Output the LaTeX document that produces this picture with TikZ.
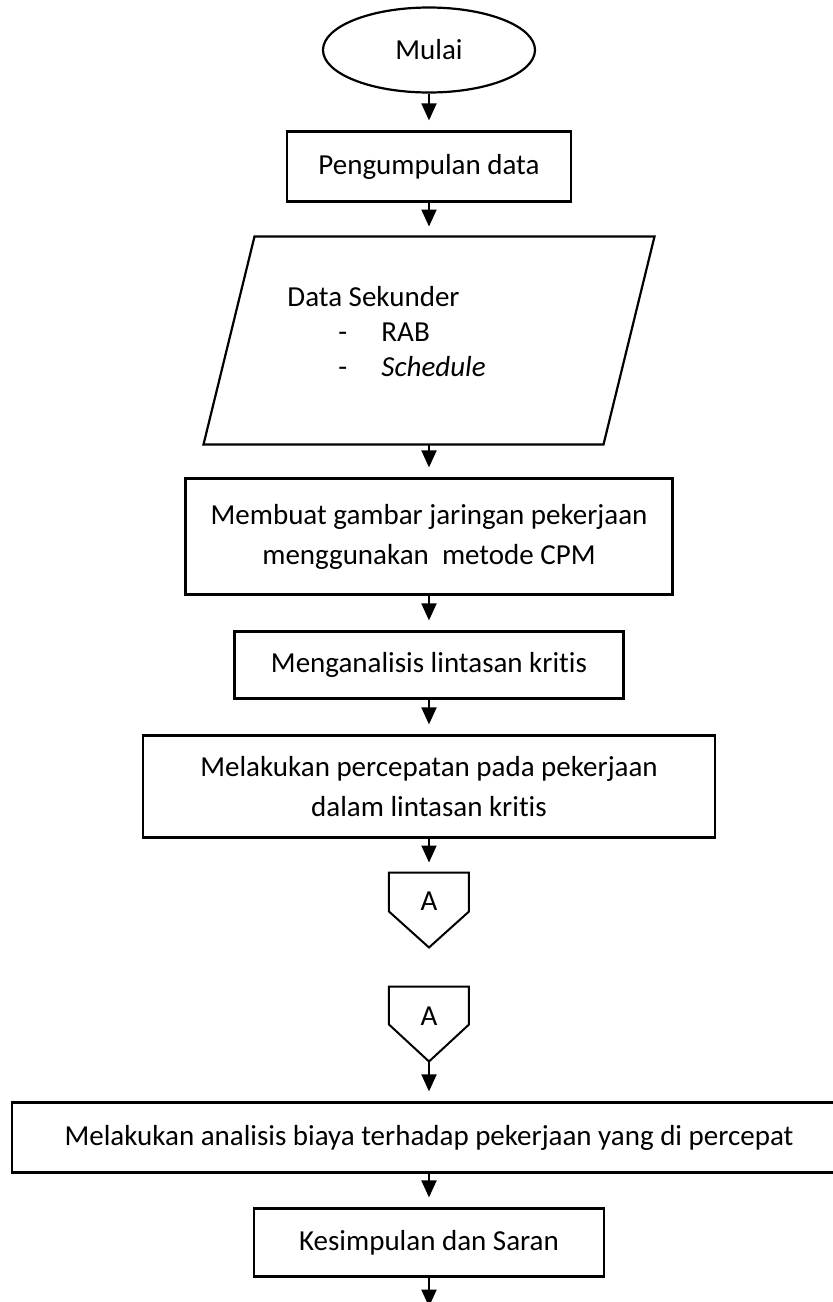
\documentclass[tikz,border=0pt]{standalone}
\usepackage{fontspec}
\setmainfont{Carlito}[Ligatures=NoCommon]
\usetikzlibrary{shapes.geometric,arrows.meta,positioning,calc}

\begin{document}
\begin{tikzpicture}[x=1pt, y=1pt, font=\fontsize{29}{40}\selectfont, box/.style={draw, line width=2.2pt, align=center, inner sep=0pt}, conn/.style={minimum width=80pt, minimum height=75pt, inner sep=0pt, outer sep=0pt}, arr/.style={-{Triangle[length=17pt, width=15pt]}, line width=2pt, shorten >=10pt}]
\useasboundingbox (-429,50) rectangle (404,-1252);
\node[box, ellipse, minimum width=212pt, minimum height=85pt] (start) {Mulai};
\node[box, below=36.8pt of start, minimum width=284pt, minimum height=70pt] (peng) {Pengumpulan data};
\node[below=33.9pt of peng, minimum width=400pt, minimum height=208pt, inner xsep=58.5pt, inner ysep=0pt, outer sep=0pt, text width=283pt, align=flush left, text depth=88pt, font=\fontsize{29}{35}\selectfont] (data) {Data Sekunder\\ \makebox[94pt][l]{\hspace*{51pt}-}RAB\\ \makebox[94pt][l]{\hspace*{51pt}-}\textit{Schedule}};
\draw[line width=2.2pt] ($(data.north west)+(25.5,0)$) -- ($(data.north east)+(25.5,0)$) -- ($(data.south east)+(-25.5,0)$) -- ($(data.south west)+(-25.5,0)$) -- cycle;
\node[box, below=32.9pt of data, minimum width=487pt, minimum height=116pt] (cpm) {Membuat gambar jaringan pekerjaan\\menggunakan\ \ metode CPM};
\node[box, below=34.8pt of cpm, minimum width=389pt, minimum height=67pt] (lint) {Menganalisis lintasan kritis};
\node[box, below=34.8pt of lint, minimum width=572pt, minimum height=102pt] (cepat) {Melakukan percepatan pada pekerjaan\\dalam lintasan kritis};
% off-page connectors
\node[conn, below=33.9pt of cepat, label={[yshift=8.5pt]center:A}] (a1) {};
\draw[line width=2pt] (a1.north west) -- (a1.north east) -- ($(a1.north east)+(0,-39)$) -- (a1.south) -- ($(a1.north west)+(0,-39)$) -- cycle;
\node[conn, below=39pt of a1, label={[yshift=7.5pt]center:A}] (a2) {};
\draw[line width=2pt] (a2.north west) -- (a2.north east) -- ($(a2.north east)+(0,-38)$) -- (a2.south) -- ($(a2.north west)+(0,-38)$) -- cycle;
\node[box, below=39.9pt of a2, minimum width=834pt, minimum height=70pt] (biaya) {Melakukan analisis biaya terhadap pekerjaan yang di percepat};
\node[box, below=33.8pt of biaya, minimum width=350pt, minimum height=68pt] (kes) {Kesimpulan dan Saran};
\coordinate[below=29pt of kes] (end);
\draw[arr] (start.south) -- (peng.north);
\draw[arr] (peng.south) -- (data.north);
\draw[arr] (data.south) -- (cpm.north);
\draw[arr] (cpm.south) -- (lint.north);
\draw[arr] (lint.south) -- (cepat.north);
\draw[arr] (cepat.south) -- (a1.north);
\draw[arr] (a2.south) -- (biaya.north);
\draw[arr] (biaya.south) -- (kes.north);
\draw[arr, shorten >=0pt] (kes.south) -- (end);
\end{tikzpicture}
\end{document}
